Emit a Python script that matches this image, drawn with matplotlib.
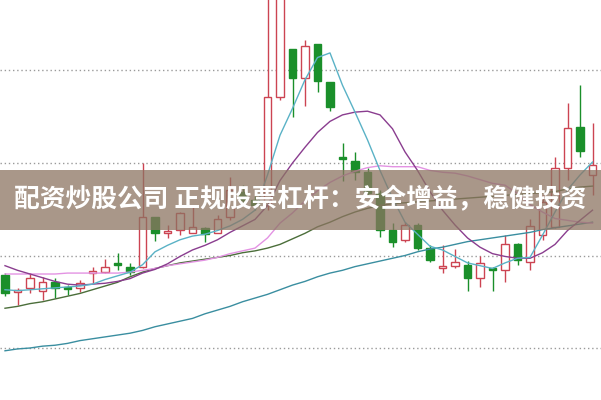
import matplotlib
matplotlib.use("Agg")
import matplotlib.pyplot as plt
from matplotlib.patches import Rectangle
from matplotlib.ticker import MultipleLocator
import numpy as np

# ---- data (prices) ----
opens  = [10.79,10.61,10.65,10.62,10.71,10.66,10.65,10.81,10.82,10.92,10.88,10.88,11.42,11.24,11.28,11.24,
          11.30,11.24,11.42,11.69,11.60,11.55,12.71,13.23,12.92,13.29,12.88,12.06,12.02,11.90,11.68,11.28,
          11.17,11.33,11.08,10.86,10.89,10.90,10.76,10.86,10.84,11.12,10.93,11.22,11.31,11.95,12.39,11.87]
highs  = [10.81,10.65,10.81,10.77,10.76,10.68,10.74,10.88,10.96,11.03,10.92,12.00,11.42,11.33,11.47,11.52,
          11.31,11.44,11.85,11.76,11.64,13.87,14.09,13.23,13.33,13.29,12.88,12.22,12.12,11.95,11.71,11.35,
          11.36,11.35,11.11,11.11,11.07,10.94,11.00,10.88,11.22,11.14,11.40,11.65,12.06,12.65,12.84,12.43]
lows   = [10.56,10.46,10.59,10.52,10.54,10.57,10.61,10.70,10.81,10.84,10.79,10.86,11.16,11.19,11.22,11.24,
          11.15,11.24,11.38,11.55,11.49,11.49,12.68,12.50,12.62,12.77,12.56,11.81,11.82,11.65,11.20,11.09,
          11.15,11.06,10.93,10.81,10.86,10.62,10.66,10.62,10.71,10.90,10.84,11.17,11.30,11.82,12.06,11.65]
closes = [10.59,10.63,10.76,10.71,10.65,10.64,10.70,10.83,10.88,10.90,10.82,11.42,11.24,11.27,11.46,11.31,
          11.23,11.40,11.71,11.60,11.55,12.71,13.92,12.92,13.26,12.89,12.61,12.04,11.90,11.68,11.28,11.15,
          11.33,11.08,10.95,10.89,10.93,10.76,10.92,10.84,11.12,10.95,11.32,11.58,11.95,12.38,12.13,11.98]

ma5  = [10.63,10.62,10.63,10.64,10.65,10.66,10.67,10.69,10.74,10.78,10.82,10.90,11.04,11.11,11.17,11.21,
        11.23,11.27,11.32,11.39,11.49,11.87,12.30,12.59,12.90,13.14,13.19,12.84,12.55,12.25,11.92,11.62,
        11.36,11.23,11.10,11.06,10.99,10.92,10.89,10.86,10.92,10.97,10.98,11.22,11.47,11.71,11.87,12.01]
ma10 = [10.89,10.84,10.80,10.76,10.72,10.69,10.68,10.69,10.70,10.72,10.75,10.81,10.85,10.91,10.99,11.06,
        11.11,11.17,11.25,11.32,11.39,11.54,11.81,12.00,12.17,12.33,12.45,12.52,12.55,12.56,12.52,12.37,
        12.12,11.92,11.69,11.49,11.33,11.19,11.09,11.02,10.99,10.97,10.97,11.03,11.12,11.27,11.38,11.49]
ma20 = [10.80,10.80,10.80,10.80,10.80,10.81,10.81,10.81,10.81,10.81,10.82,10.84,10.86,10.89,10.91,10.93,
        10.95,10.98,11.02,11.05,11.08,11.19,11.35,11.46,11.59,11.70,11.79,11.86,11.91,11.95,11.97,11.96,
        11.96,11.96,11.92,11.90,11.89,11.86,11.82,11.78,11.76,11.67,11.55,11.47,11.40,11.38,11.36,11.35]
ma30 = [10.43,10.45,10.48,10.50,10.53,10.56,10.59,10.63,10.67,10.71,10.77,10.82,10.86,10.89,10.92,10.94,
        10.96,10.98,11.00,11.03,11.05,11.08,11.12,11.18,11.24,11.31,11.36,11.42,11.47,11.51,11.54,11.56,
        11.57,11.58,11.59,11.60,11.61,11.62,11.63,11.64,11.65,11.66,11.67,11.68,11.69,11.72,11.74,11.75]
ma60 = [9.97,9.99,10.00,10.02,10.03,10.05,10.08,10.10,10.12,10.14,10.16,10.19,10.23,10.26,10.29,10.32,
        10.37,10.41,10.45,10.50,10.54,10.58,10.63,10.68,10.72,10.77,10.81,10.84,10.88,10.91,10.94,10.97,
        11.00,11.04,11.07,11.09,11.12,11.15,11.17,11.19,11.21,11.23,11.25,11.28,11.30,11.32,11.34,11.36]

title = "配资炒股公司 正规股票杠杆：安全增益，稳健投资"

# ---- style ----
RED = "#cc4452"
GREEN = "#1a8f2a"
C_MA5 = "#5ab2c6"
C_MA10 = "#8a3d8f"
C_MA20 = "#e393e3"
C_MA30 = "#4b6e3a"
C_MA60 = "#3a8ea0"

fig = plt.figure(figsize=(6.01, 4.00), dpi=100)
ax = fig.add_axes([0, 0, 1, 1])
n = len(opens)
x = np.arange(n)
ax.set_xlim(-0.4, 47.68)
ax.set_ylim(9.438, 13.762)

ax.yaxis.set_major_locator(MultipleLocator(1))
ax.grid(axis="y", color="#9a9a9a", linestyle=(0, (1, 2)), linewidth=1.0, zorder=0)
ax.set_axisbelow(True)
for s in ax.spines.values():
    s.set_visible(False)
ax.tick_params(left=False, bottom=False, labelleft=False, labelbottom=False)

w = 0.62
for i in range(n):
    o, h, l, c = opens[i], highs[i], lows[i], closes[i]
    up = c >= o
    col = RED if up else GREEN
    top, bot = max(o, c), min(o, c)
    ax.plot([x[i], x[i]], [top, h], color=col, lw=1.0, zorder=2, solid_capstyle="butt")
    ax.plot([x[i], x[i]], [l, bot], color=col, lw=1.0, zorder=2, solid_capstyle="butt")
    hgt = max(top - bot, 0.012)
    if up:
        ax.add_patch(Rectangle((x[i] - w / 2, bot), w, hgt, facecolor="white",
                               edgecolor=col, lw=1.0, zorder=3))
    else:
        ax.add_patch(Rectangle((x[i] - w / 2, bot), w, hgt, facecolor=col,
                               edgecolor=col, lw=1.0, zorder=3))

for vals, col in [(ma60, C_MA60), (ma30, C_MA30), (ma20, C_MA20), (ma10, C_MA10), (ma5, C_MA5)]:
    ax.plot(x, vals, color=col, lw=1.0, zorder=4)

# banner overlay
fig.patches.append(Rectangle((0, 1 - 230 / 400), 1, 60 / 400, transform=fig.transFigure,
                             facecolor="#8c7462", alpha=0.75, edgecolor="none", zorder=10))
fig.text(0.5, 0.5, title, ha="center", va="center", color="white", fontsize=18.5,
         fontweight="bold", family=["Noto Sans CJK SC", "DejaVu Sans"], zorder=11)

fig.savefig("out.png", dpi=100)
